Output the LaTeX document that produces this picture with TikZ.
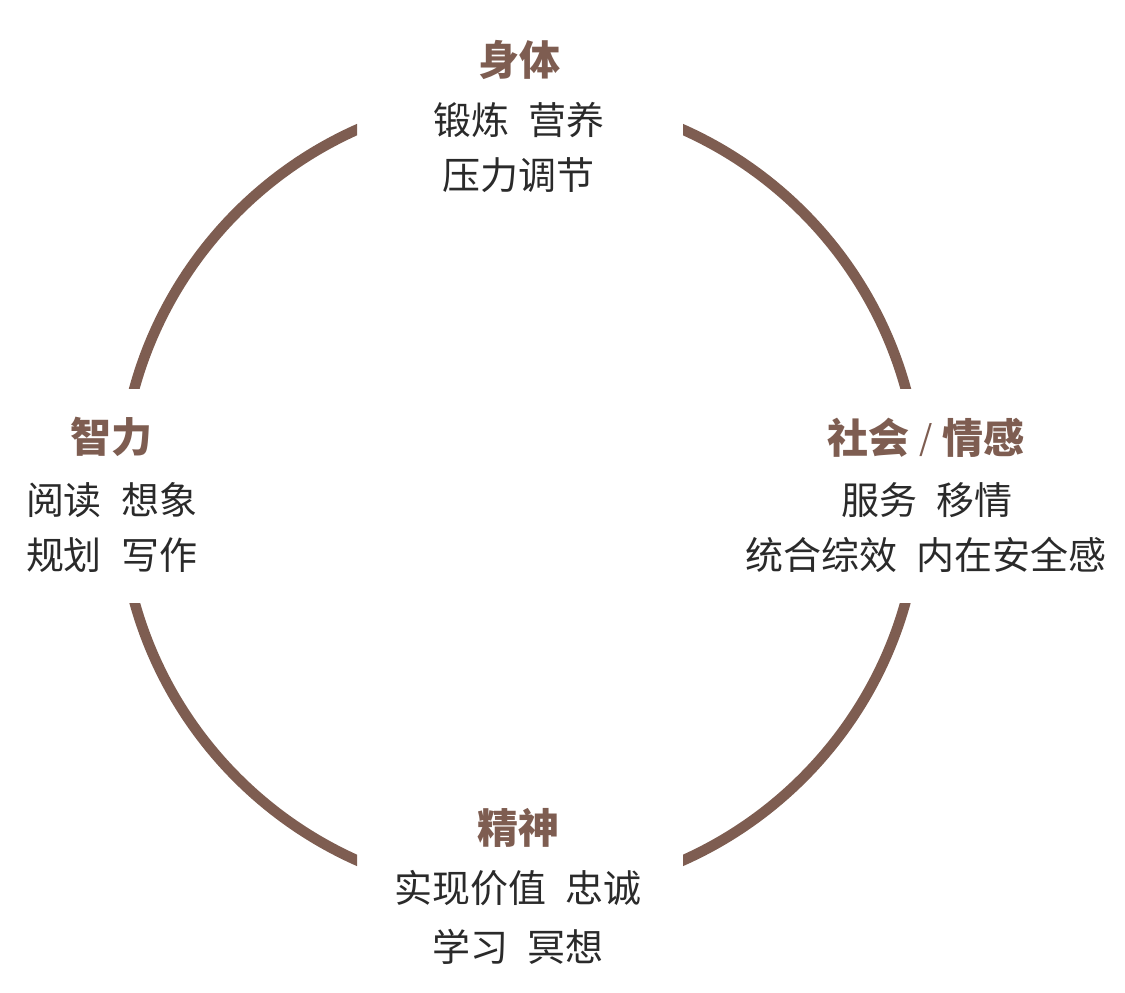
\documentclass[tikz,border=0pt]{standalone}
\usepackage{fontspec}
\setmainfont{Noto Sans CJK SC}
\definecolor{brownc}{HTML}{7E5D51}
\definecolor{textc}{HTML}{2A2A2A}
\newcommand{\gapsp}{\hspace{20pt}}
\begin{document}
\begin{tikzpicture}[x=1pt,y=-1pt,
  ring/.style={draw=brownc,line width=10.5pt},
  title/.style={font=\fontsize{41}{44}\selectfont\bfseries, text=brownc, inner sep=0pt},
  body/.style={font=\fontsize{38}{42}\selectfont, text=textc, inner sep=0pt}]
\useasboundingbox (0,0) rectangle (1125,993);
\coordinate (c) at (520,495);
\begin{scope}\clip (0,0) rectangle (357,388); \draw[ring] (c) circle[radius=400]; \end{scope}
\begin{scope}\clip (683,0) rectangle (1125,388); \draw[ring] (c) circle[radius=400]; \end{scope}
\begin{scope}\clip (0,603) rectangle (357,993); \draw[ring] (c) circle[radius=400]; \end{scope}
\begin{scope}\clip (683,603) rectangle (1125,993); \draw[ring] (c) circle[radius=400]; \end{scope}

\node[title] (t1) at (519,60) {身体};
\node[body] (t1a) at (519,120) {锻炼\gapsp 营养};
\node[body] (t1b) at (518,175) {压力调节};

\node[title] (t2) at (111,437) {智力};
\node[body] (t2a) at (112,500) {阅读\gapsp 想象};
\node[body] (t2b) at (112,555) {规划\gapsp 写作};

\node[title] (t3) at (926,438) {社会 \raisebox{3pt}{\mdseries\fontsize{34}{40}\selectfont /} 情感};
\node[body] (t3a) at (927,500) {服务\gapsp 移情};
\node[body] (t3b) at (926,555) {统合综效\gapsp 内在安全感};

\node[title] (t4) at (518,828) {精神};
\node[body] (t4a) at (518,888) {实现价值\gapsp 忠诚};
\node[body] (t4b) at (518,947) {学习\gapsp 冥想};
\end{tikzpicture}
\end{document}
